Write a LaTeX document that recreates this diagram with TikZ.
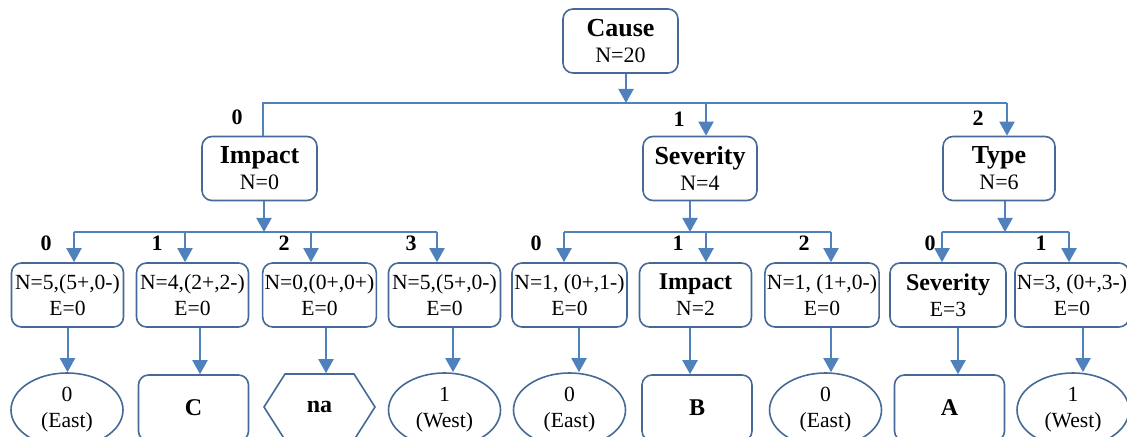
\documentclass[tikz,border=0pt]{standalone}
\usepackage{fontspec}
\setmainfont{Liberation Serif}
\usetikzlibrary{positioning,arrows.meta,shapes.geometric,shapes.symbols,calc}
\definecolor{linblue}{RGB}{79,129,189}
\definecolor{boxblue}{RGB}{70,105,150}
\newcommand{\ttl}[1]{{\fontsize{13}{14}\selectfont\bfseries #1}}
\newcommand{\sttl}[1]{{\fontsize{12}{13}\selectfont\bfseries #1}}
\tikzset{
  msarr/.style={-{Triangle[length=7pt,width=7.5pt]},line width=1pt,draw=linblue,fill=linblue},
  msline/.style={line width=1pt,draw=linblue},
  attr/.style={draw=boxblue,line width=0.8pt,rounded corners=5pt,align=center,fill=white,
               minimum width=57.5pt,minimum height=32pt,inner sep=1pt,
               font=\fontsize{11}{13}\selectfont},
  split/.style={attr,minimum width=56pt,font=\fontsize{10.8}{13}\selectfont},
  leafrect/.style={draw=boxblue,line width=0.8pt,rounded corners=5pt,minimum width=55pt,
                   minimum height=33pt,font=\fontsize{12}{13}\selectfont\bfseries},
  leafell/.style={draw=boxblue,line width=0.8pt,ellipse,minimum width=56pt,minimum height=37pt,
                  inner sep=0pt,align=center,font=\fontsize{10.8}{13}\selectfont},
  leafhex/.style={draw=boxblue,line width=0.8pt,signal,signal to=east and west,
                  signal pointer angle=115,minimum width=55.5pt,minimum height=33pt,
                  inner sep=0pt,font=\fontsize{12}{13}\selectfont\bfseries},
  brlabel/.style={font=\fontsize{11}{12}\selectfont\bfseries,inner sep=0pt}
}
\begin{document}
\begin{tikzpicture}[x=0.5pt,y=-0.5pt]
\useasboundingbox (0,0) rectangle (1127,437);
\clip (0,0) rectangle (1127,437);

% root and first split
\node[attr] (cause) at (620.5,41) {\ttl{Cause}\\N=20};
\node[attr] (impact) at (259.5,168.5) {\ttl{Impact}\\N=0};
\node[attr, minimum width=57pt] (sev) at (700,168.5) {\ttl{Severity}\\N=4};
\node[attr, minimum width=56pt] (type) at (999,168.5) {\ttl{Type}\\N=6};
\coordinate (bus0) at (0,103);
\coordinate (bus1) at (0,232);

% second level
\node[split] (s0) at (67.5,295) {N=5,(5+,0-)\\E=0};
\node[split] (s1) at (192.5,295) {N=4,(2+,2-)\\E=0};
\node[split] (s2) at (319.5,295) {N=0,(0+,0+)\\E=0};
\node[split] (s3) at (444.5,295) {N=5,(5+,0-)\\E=0};
\node[split, minimum width=57.5pt] (s4) at (569.5,295) {N=1, (0+,1-)\\E=0};
\node[split] (s5) at (695.5,295) {\sttl{Impact}\\N=2};
\node[split] (s6) at (822,295) {N=1, (1+,0-)\\E=0};
\node[split, minimum width=58pt] (s7) at (948,295) {\sttl{Severity}\\E=3};
\node[split] (s8) at (1072,295) {N=3, (0+,3-)\\E=0};

% leaves
\node[leafell] (e0) at (67,410) {0\\(East)};
\node[leafrect] (c1) at (193.5,408) {C};
\node[leafhex] (h2) at (319.5,407) {na};
\node[leafell] (w3) at (444.5,410) {1\\(West)};
\node[leafell] (e4) at (569.5,410) {0\\(East)};
\node[leafrect] (b5) at (697,408) {B};
\node[leafell] (e6) at (825.5,410) {0\\(East)};
\node[leafrect] (a7) at (949.5,408) {A};
\node[leafell] (w8) at (1073,410) {1\\(West)};

% branch values
\node[brlabel] (v0) at (237,117) {0};
\node[brlabel] (v1) at (679,119) {1};
\node[brlabel] (v2) at (978,118) {2};
\node[brlabel] (v00) at (46,243) {0};
\node[brlabel] (v01) at (157,243) {1};
\node[brlabel] (v02) at (284,243) {2};
\node[brlabel] (v03) at (411,243) {3};
\node[brlabel] (v10) at (536,243) {0};
\node[brlabel] (v11) at (678,243) {1};
\node[brlabel] (v12) at (804,243) {2};
\node[brlabel] (v20) at (930,243) {0};
\node[brlabel] (v21) at (1041,243) {1};

% cause -> first level
\draw[msarr] ([xshift=2.75pt]cause.south) -- ([xshift=2.75pt]cause.south |- bus0);
\draw[msline] ([xshift=1.75pt]impact.north) |- ([xshift=4pt]type.north |- bus0);
\draw[msarr] ([xshift=3pt]sev.north |- bus0) -- ([xshift=3pt]sev.north);
\draw[msarr] ([xshift=4pt]type.north |- bus0) -- ([xshift=4pt]type.north);

% impact -> second level
\draw[msarr] ([xshift=2.25pt]impact.south) -- ([xshift=2.25pt]impact.south |- bus1);
\draw[msline] ([xshift=3.25pt]s0.north |- bus1) -- ([xshift=-3.75pt]s3.north |- bus1);
\draw[msarr] ([xshift=3.25pt]s0.north |- bus1) -- ([xshift=3.25pt]s0.north);
\draw[msarr] ([xshift=-3.75pt]s1.north |- bus1) -- ([xshift=-3.75pt]s1.north);
\draw[msarr] ([xshift=-4.25pt]s2.north |- bus1) -- ([xshift=-4.25pt]s2.north);
\draw[msarr] ([xshift=-3.75pt]s3.north |- bus1) -- ([xshift=-3.75pt]s3.north);

% severity -> second level
\draw[msarr] ([xshift=-5pt]sev.south) -- ([xshift=-5pt]sev.south |- bus1);
\draw[msline] ([xshift=-2.75pt]s4.north |- bus1) -- ([xshift=4.5pt]s6.north |- bus1);
\draw[msarr] ([xshift=-2.75pt]s4.north |- bus1) -- ([xshift=-2.75pt]s4.north);
\draw[msarr] ([xshift=5.25pt]s5.north |- bus1) -- ([xshift=5.25pt]s5.north);
\draw[msarr] ([xshift=4.5pt]s6.north |- bus1) -- ([xshift=4.5pt]s6.north);

% type -> second level
\draw[msarr] ([xshift=3pt]type.south) -- ([xshift=3pt]type.south |- bus1);
\draw[msline] ([xshift=-3pt]s7.north |- bus1) -- ([xshift=-1.5pt]s8.north |- bus1);
\draw[msarr] ([xshift=-3pt]s7.north |- bus1) -- ([xshift=-3pt]s7.north);
\draw[msarr] ([xshift=-1.5pt]s8.north |- bus1) -- ([xshift=-1.5pt]s8.north);

% second level -> leaves
\draw[msarr] (s0.south) -- (s0.south |- e0.north);
\draw[msarr] ([xshift=3.75pt]s1.south) -- ([xshift=3.75pt]s1.south |- c1.north);
\draw[msarr] ([xshift=3.25pt]s2.south) -- ([xshift=3.25pt]s2.south |- h2.north);
\draw[msarr] ([xshift=4.25pt]s3.south) -- ([xshift=4.25pt]s3.south |- w3.north);
\draw[msarr] ([xshift=4.75pt]s4.south) -- ([xshift=4.75pt]s4.south |- e4.north);
\draw[msarr] ([xshift=-2.75pt]s5.south) -- ([xshift=-2.75pt]s5.south |- b5.north);
\draw[msarr] ([xshift=4.5pt]s6.south) -- ([xshift=4.5pt]s6.south |- e6.north);
\draw[msarr] ([xshift=5pt]s7.south) -- ([xshift=5pt]s7.south |- a7.north);
\draw[msarr] ([xshift=5.5pt]s8.south) -- ([xshift=5.5pt]s8.south |- w8.north);
\end{tikzpicture}
\end{document}
